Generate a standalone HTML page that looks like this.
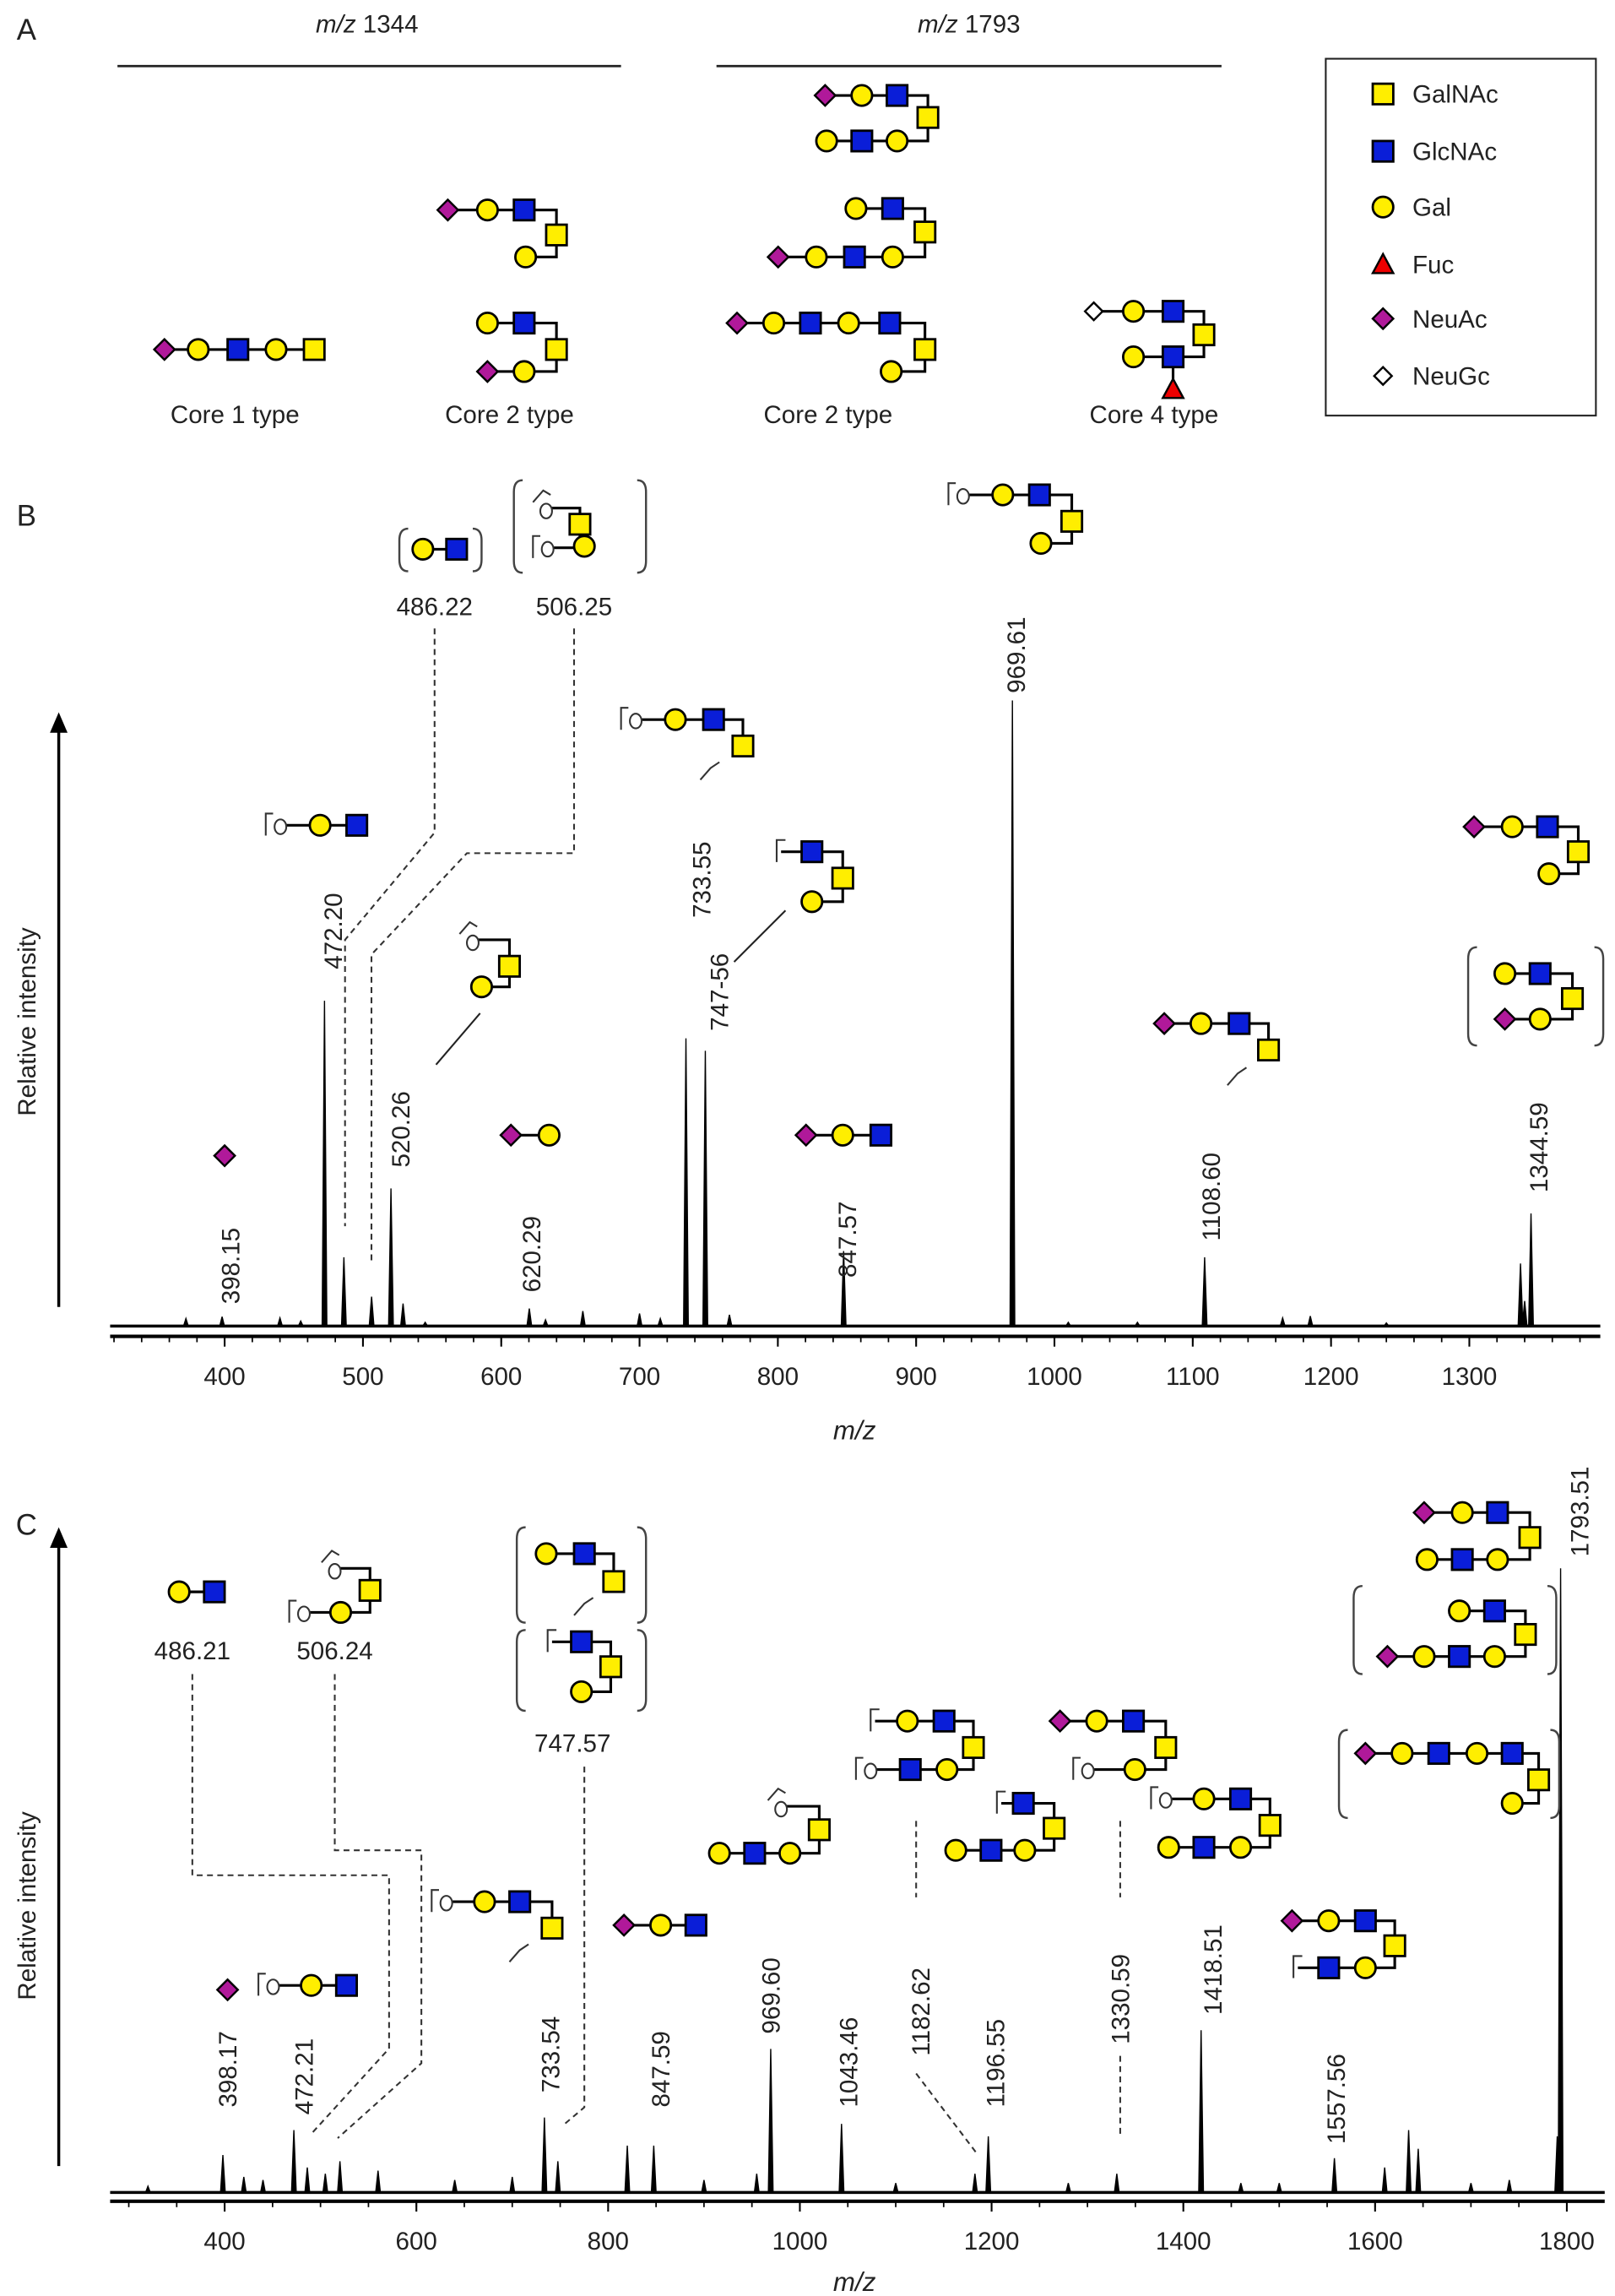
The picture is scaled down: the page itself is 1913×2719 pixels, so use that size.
<!DOCTYPE html>
<html><head><meta charset="utf-8">
<style>
html,body{margin:0;padding:0;background:#fff;}
svg{display:block;font-family:"Liberation Sans",Arial,sans-serif;}
</style></head>
<body>
<svg id="fig" width="1913" height="2719" viewBox="0 0 1100 1563.5" xmlns="http://www.w3.org/2000/svg">
<rect width="1100" height="1563.5" fill="#fff"/>
<g id="gl"></g>
<g id="tx"></g>
</svg>
<script>
// ---- Chart data ----
const bMz  = [372,398.15,440,455,472.20,486.22,506.25,520.26,529,545,620.29,632,659,700,715,733.55,747.56,765,847.57,969.61,1010,1060,1108.60,1165,1185,1240,1337,1340,1344.59];
const bInt = [1.2,1.5,1.3,0.8,52,11,4.7,22,3.6,0.6,2.8,1,2.4,2,1.2,46,44,1.8,12,100,0.6,0.6,11,1.3,1.6,0.5,10,4,18];
const bTicks = [400,500,600,700,800,900,1000,1100,1200,1300];
const cMz  = [320,398.17,420,440,472.21,486.21,505,520.26,560,640,700,733.54,747.57,820,847.59,900,955,969.60,1043.46,1100,1182.62,1196.55,1280,1330.59,1418.51,1460,1500,1557.56,1610,1635,1645,1700,1740,1790,1793.51];
const cInt = [1,6,2.5,2,10,4,3,5,3.5,2,2.5,12,5,7.5,7.5,2,3,23,11,1.5,3,9,1.5,3,26,1.5,1.5,5.5,4,10,7,1.5,2,9,100];
const cTicks = [400,600,800,1000,1200,1400,1600,1800];

const NS="http://www.w3.org/2000/svg";
const G=document.getElementById('gl');
function el(tag,attrs,parent){const e=document.createElementNS(NS,tag);for(const k in attrs)e.setAttribute(k,attrs[k]);(parent||G).appendChild(e);return e;}
function txt(s,x,y,size,opts){opts=opts||{};const t=el('text',{x:x,y:y,'font-size':size,fill:'#222','text-anchor':opts.anchor||'middle'});
 if(opts.rot){t.setAttribute('transform','rotate(-90 '+x+' '+y+')');t.setAttribute('text-anchor','start');}
 if(opts.italic)t.setAttribute('font-style','italic');
 t.textContent=s;
 
 
 return t;}

// ---- glycan symbols ----
function sym(type,x,y,p){
 let e;
 if(type==='S'){e=el('rect',{x:x-7,y:y-7,width:14,height:14,fill:'#ffee00',stroke:'#000','stroke-width':1.6},p);}
 else if(type==='B'){e=el('rect',{x:x-7,y:y-7,width:14,height:14,fill:'#0a1ed8',stroke:'#000','stroke-width':1.6},p);}
 else if(type==='C'){e=el('circle',{cx:x,cy:y,r:7,fill:'#ffee00',stroke:'#000','stroke-width':1.6},p);}
 else if(type==='D'){e=el('polygon',{points:(x-7)+','+y+' '+x+','+(y-7)+' '+(x+7)+','+y+' '+x+','+(y+7),fill:'#b0199a',stroke:'#000','stroke-width':1.4},p);}
 else if(type==='W'){e=el('polygon',{points:(x-6)+','+y+' '+x+','+(y-6)+' '+(x+6)+','+y+' '+x+','+(y+6),fill:'#fff',stroke:'#000','stroke-width':1.4},p);}
 else if(type==='T'){e=el('polygon',{points:(x-7)+','+(y+6)+' '+x+','+(y-7)+' '+(x+7)+','+(y+6),fill:'#e00',stroke:'#000','stroke-width':1.4},p);}
 else if(type==='O'){
   el('path',{d:'M'+(x-9)+' '+(y+7)+' V'+(y-8)+' H'+(x-4),fill:'none',stroke:'#333','stroke-width':1.2},p);
   e=el('ellipse',{cx:x+1,cy:y+1,rx:4,ry:5,fill:'#fff',stroke:'#333','stroke-width':1.2},p);}
 else if(type==='K'){
   e=el('path',{d:'M'+(x-3)+' '+(y+7)+' V'+(y-8)+' H'+(x+3),fill:'none',stroke:'#333','stroke-width':1.2},p);}
 else if(type==='A'){
   el('path',{d:'M'+(x-9)+' '+(y-4)+' L'+(x-2)+' '+(y-12)+' L'+(x+3)+' '+(y-9),fill:'none',stroke:'#333','stroke-width':1.2},p);
   e=el('ellipse',{cx:x,cy:y+2,rx:4,ry:5,fill:'#fff',stroke:'#333','stroke-width':1.2},p);}
 else if(type==='X'){
   e=el('path',{d:'M'+(x-7)+' '+(y+8)+' L'+x+' '+y+' L'+(x+6)+' '+(y-4),fill:'none',stroke:'#333','stroke-width':1.2},p);}
 return e;}
function glycan(name,nodes,edges){
 const g=el('g',{});
 
 
 edges.forEach(([a,b])=>{const A=nodes[a],B=nodes[b];
   let d='M'+A[1]+' '+A[2];
   if(A[2]!==B[2]&&A[1]!==B[1]) d+=' H'+B[1]+' V'+B[2]; else d+=' L'+B[1]+' '+B[2];
   el('path',{d:d,fill:'none',stroke:'#000','stroke-width':1.8},g);});
 nodes.forEach(n=>sym(n[0],n[1],n[2],g));
 return g;}
function paren(x1,x2,y1,y2){
 const g=el('g',{});
 
 
 el('path',{d:'M'+(x1+6)+' '+y1+' Q'+x1+' '+y1+' '+x1+' '+(y1+8)+' V'+(y2-8)+' Q'+x1+' '+y2+' '+(x1+6)+' '+y2,fill:'none',stroke:'#444','stroke-width':1.4},g);
 el('path',{d:'M'+(x2-6)+' '+y1+' Q'+x2+' '+y1+' '+x2+' '+(y1+8)+' V'+(y2-8)+' Q'+x2+' '+y2+' '+(x2-6)+' '+y2,fill:'none',stroke:'#444','stroke-width':1.4},g);}
function dash(pts){const p=el('polyline',{points:pts,fill:'none',stroke:'#333','stroke-width':1.2,'stroke-dasharray':'4,3'});
 
 }
function solid(pts){const p=el('polyline',{points:pts,fill:'none',stroke:'#222','stroke-width':1.2});
 
 }

// ---- Panel A ----
txt('A',18,27,20,{anchor:'middle',name:'panel-a-label'});
txt('B',18,358,20,{name:'panel-b-label'});
txt('C',18,1045,20,{name:'panel-c-label'});
el('line',{x1:80,y1:45,x2:423,y2:45,stroke:'#222','stroke-width':1.6});
el('line',{x1:488,y1:45,x2:832,y2:45,stroke:'#222','stroke-width':1.6});
(function(){const t=el('text',{x:250,y:22,'font-size':17,'text-anchor':'middle',fill:'#222'});t.innerHTML='<tspan font-style="italic">m/z</tspan> 1344';
const t2=el('text',{x:660,y:22,'font-size':17,'text-anchor':'middle',fill:'#222'});t2.innerHTML='<tspan font-style="italic">m/z</tspan> 1793';})();

glycan('core1-glycan',[['D',112,238],['C',135,238],['B',162,238],['C',188,238],['S',214,238]],[[0,4]]);
glycan('core2-glycan-a',[['D',305,143],['C',332,143],['B',357,143],['S',379,160],['C',358,175]],[[0,2],[2,3],[4,3]]);
glycan('core2-glycan-b',[['C',332,220],['B',357,220],['S',379,238],['D',332,253],['C',357,253]],[[0,1],[1,2],[3,4],[4,2]]);
glycan('core2-1793-a',[['D',562,65],['C',587,65],['B',611,65],['S',632,80],['C',563,96],['B',587,96],['C',611,96]],[[0,2],[2,3],[4,6],[6,3]]);
glycan('core2-1793-b',[['C',583,142],['B',608,142],['S',630,158],['D',530,175],['C',556,175],['B',582,175],['C',608,175]],[[0,1],[1,2],[3,6],[6,2]]);
glycan('core2-1793-c',[['D',502,220],['C',527,220],['B',552,220],['C',578,220],['B',606,220],['S',630,238],['C',607,253]],[[0,4],[4,5],[6,5]]);
glycan('core4-glycan',[['W',745,212],['C',772,212],['B',799,212],['S',820,228],['C',772,243],['B',799,243],['T',799,265]],[[0,2],[2,3],[4,5],[5,3],[5,6]]);
txt('Core 1 type',160,288,17,{name:'core1-label'});
txt('Core 2 type',347,288,17,{name:'core2-label'});
txt('Core 2 type',564,288,17,{name:'core2-label-2'});
txt('Core 4 type',786,288,17,{name:'core4-label'});

(function(){const r=el('rect',{x:903,y:40,width:184,height:243,fill:'none',stroke:'#222','stroke-width':1.2});

const items=[['S','GalNAc',64],['B','GlcNAc',103],['C','Gal',141],['T','Fuc',180],['D','NeuAc',217],['W','NeuGc',256]];
items.forEach(it=>{sym(it[0],942,it[2]);txt(it[1],962,it[2]+6,17,{anchor:'start',name:'legend-entry'});});})();

// ---- spectra ----
function spectrum(name,mz,inten,ticks,x0,m0,ppu,base,top,axY,xmin,xmax,minor){
 const X=m=>x0+(m-m0)*ppu;
 const Y=v=>base-(base-top)*v/100;
 const g=el('g',{});
 const bl=el('line',{x1:xmin,y1:base,x2:xmax,y2:base,stroke:'#000','stroke-width':2},g);
 
 mz.forEach((m,i)=>{const x=X(m);
   const p=el('polygon',{points:(x-1.6)+','+base+' '+x+','+Y(inten[i])+' '+(x+1.6)+','+base,fill:'#000',stroke:'#000','stroke-width':0.8},g);
   
   });
 el('line',{x1:xmin,y1:axY,x2:xmax,y2:axY,stroke:'#000','stroke-width':2.4},g);
 for(let m=Math.ceil((m0-200)/minor)*minor;m<=m0+5000;m+=minor){const x=X(m);if(x<xmin||x>xmax)continue;
   el('line',{x1:x,y1:axY,x2:x,y2:axY+4,stroke:'#000','stroke-width':1},g);}
 ticks.forEach(t=>{const x=X(t);el('line',{x1:x,y1:axY,x2:x,y2:axY+7,stroke:'#000','stroke-width':1.2},g);
   txt(String(t),x,axY+33,17,{name:'x-tick-label'});});
 return X;}
const XB=spectrum('spectrum-b',bMz,bInt,bTicks,153,400,0.942,903,477,910,75,1090,20);
const XC=spectrum('spectrum-c',cMz,cInt,cTicks,153,400,0.653,1493,1068,1499,75,1093,50);
txt('m/z',582,980,18,{italic:true,name:'x-axis-title-b'});
txt('m/z',582,1560,18,{italic:true,name:'x-axis-title-c'});
[[890,485,'y-axis-b'],[1475,1040,'y-axis-c']].forEach(a=>{const l=el('line',{x1:40,y1:a[0],x2:40,y2:a[1]+12,stroke:'#000','stroke-width':2});
 el('polygon',{points:'34,'+(a[1]+14)+' 40,'+a[1]+' 46,'+(a[1]+14),fill:'#000'});});
txt('Relative intensity',24,760,17,{rot:true,name:'y-axis-title-b'});
txt('Relative intensity',24,1362,17,{rot:true,name:'y-axis-title-c'});

// ---- B annotations ----
[['398.15',157,888],['472.20',227,660],['520.26',273,795],['620.29',362,880],['733.55',478,625],['747-56',490,702],['847.57',577,870],['969.61',692,472],['1108.60',825,845],['1344.59',1048,812]].forEach(l=>txt(l[0],l[1]+6,l[2],17,{rot:true,name:'peak-label'}));
txt('486.22',296,419,17,{name:'peak-label'});
txt('506.25',391,419,17,{name:'peak-label'});
glycan('b-398',[['D',153,787]],[]);
glycan('b-472',[['O',190,562],['C',218,562],['B',243,562]],[[0,2]]);
paren(272,328,360,389);
glycan('b-486',[['C',288,374],['B',311,374]],[[0,1]]);
paren(350,440,327,390);
glycan('b-506',[['A',372,346],['S',395,357],['O',372,373],['C',398,372]],[[0,1],[2,3],[3,1]]);
dash('296,428 296,567 235,640 235,835');
dash('391,428 391,581 318,581 253,650 253,860');
glycan('b-520',[['A',322,640],['S',347,658],['C',328,672]],[[0,1],[2,1]]);
solid('297,725 327,690');
glycan('b-620',[['D',348,773],['C',374,773]],[[0,1]]);
glycan('b-733',[['O',432,490],['C',460,490],['B',486,490],['S',506,508],['X',484,523]],[[0,2],[2,3]]);
glycan('b-747',[['K',532,580],['B',553,580],['S',574,598],['C',553,614]],[[0,1],[1,2],[3,2]]);
solid('500,655 535,620');
glycan('b-847',[['D',549,773],['C',574,773],['B',600,773]],[[0,2]]);
glycan('b-969',[['O',655,337],['C',683,337],['B',708,337],['S',730,355],['C',709,370]],[[0,2],[2,3],[4,3]]);
glycan('b-1108',[['D',793,697],['C',818,697],['B',844,697],['S',864,715],['X',843,731]],[[0,2],[2,3]]);
glycan('b-1344-a',[['D',1004,563],['C',1030,563],['B',1054,563],['S',1075,580],['C',1055,595]],[[0,2],[2,3],[4,3]]);
paren(1000,1092,645,712);
glycan('b-1344-b',[['C',1025,663],['B',1049,663],['S',1071,680],['D',1025,694],['C',1049,694]],[[0,1],[1,2],[3,4],[4,2]]);

// ---- C annotations ----
[['398.17',155,1435],['472.21',207,1440],['733.54',375,1425],['847.59',450,1435],['969.60',525,1385],['1043.46',578,1435],['1182.62',627,1400],['1196.55',678,1435],['1330.59',763,1392],['1418.51',826,1372],['1557.56',910,1460],['1793.51',1076,1060]].forEach(l=>txt(l[0],l[1]+6,l[2],17,{rot:true,name:'peak-label'}));
txt('486.21',131,1130,17,{name:'peak-label'});
txt('506.24',228,1130,17,{name:'peak-label'});
txt('747.57',390,1193,17,{name:'peak-label'});
glycan('c-486',[['C',122,1084],['B',146,1084]],[[0,1]]);
glycan('c-506',[['A',228,1068],['S',252,1083],['O',206,1098],['C',232,1098]],[[0,1],[2,3],[3,1]]);
paren(352,440,1040,1105);
glycan('c-747-a',[['C',372,1058],['B',398,1058],['S',418,1077],['X',398,1092]],[[0,1],[1,2]]);
paren(352,440,1110,1165);
glycan('c-747-b',[['K',376,1118],['B',396,1118],['S',416,1135],['C',396,1152]],[[0,1],[1,2],[3,2]]);
dash('131,1140 131,1277 265,1277 265,1395 213,1452');
dash('228,1140 228,1260 287,1260 287,1405 230,1456');
dash('398,1203 398,1435 385,1446');
dash('624,1240 624,1292');
dash('624,1412 665,1466');
dash('763,1240 763,1292');
dash('763,1400 763,1456');
glycan('c-398',[['D',155,1355]],[]);
glycan('c-472',[['O',185,1352],['C',212,1352],['B',236,1352]],[[0,2]]);
glycan('c-733',[['O',303,1295],['C',330,1295],['B',354,1295],['S',376,1313],['X',354,1328]],[[0,2],[2,3]]);
glycan('c-847',[['D',425,1311],['C',450,1311],['B',474,1311]],[[0,2]]);
glycan('c-969',[['A',532,1230],['S',558,1246],['C',490,1262],['B',514,1262],['C',538,1262]],[[0,1],[2,4],[4,1]]);
glycan('c-1182',[['K',596,1172],['C',618,1172],['B',643,1172],['S',663,1190],['O',592,1205],['B',620,1205],['C',645,1205]],[[0,2],[2,3],[4,6],[6,3]]);
glycan('c-1196',[['K',682,1228],['B',697,1228],['S',718,1245],['C',651,1260],['B',675,1260],['C',698,1260]],[[0,1],[1,2],[3,5],[5,2]]);
glycan('c-1330',[['D',722,1172],['C',747,1172],['B',772,1172],['S',794,1190],['O',740,1205],['C',773,1205]],[[0,2],[2,3],[4,5],[5,3]]);
glycan('c-1418',[['O',793,1225],['C',820,1225],['B',845,1225],['S',865,1243],['C',796,1258],['B',820,1258],['C',845,1258]],[[0,2],[2,3],[4,6],[6,3]]);
glycan('c-1557',[['D',880,1308],['C',905,1308],['B',930,1308],['S',950,1325],['K',884,1340],['B',905,1340],['C',930,1340]],[[0,2],[2,3],[4,6],[6,3]]);
glycan('c-1793-a',[['D',970,1030],['C',996,1030],['B',1020,1030],['S',1042,1047],['C',972,1062],['B',996,1062],['C',1020,1062]],[[0,2],[2,3],[4,6],[6,3]]);
paren(922,1060,1080,1140);
glycan('c-1793-b',[['C',994,1097],['B',1018,1097],['S',1039,1113],['D',945,1128],['C',970,1128],['B',994,1128],['C',1018,1128]],[[0,1],[1,2],[3,6],[6,2]]);
paren(912,1062,1178,1238);
glycan('c-1793-c',[['D',930,1194],['C',955,1194],['B',980,1194],['C',1006,1194],['B',1030,1194],['S',1048,1212],['C',1030,1228]],[[0,4],[4,5],[6,5]]);
</script>
</body></html>
